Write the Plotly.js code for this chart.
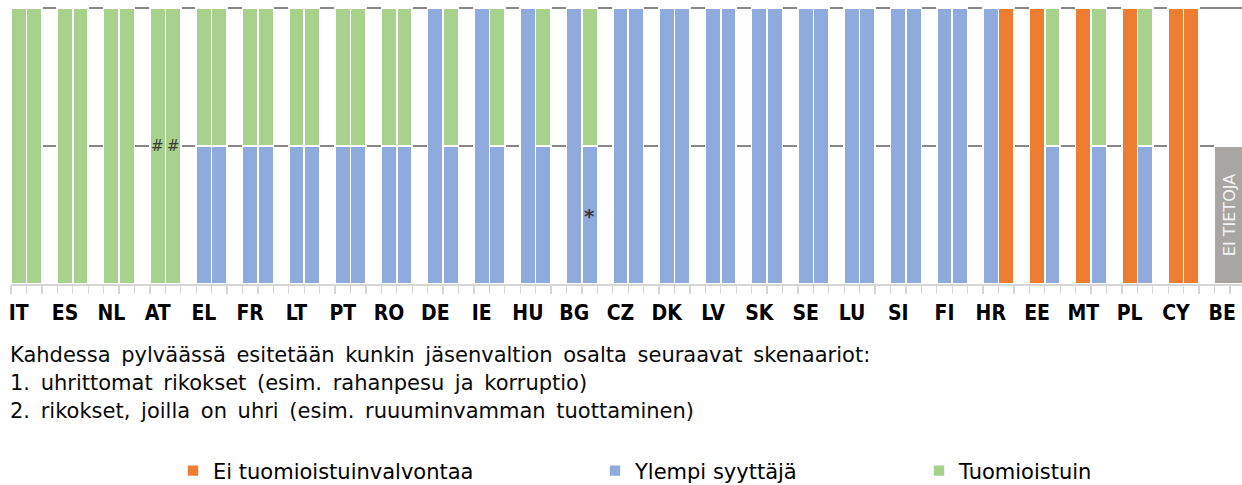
<!DOCTYPE html>
<html>
<head>
<meta charset="utf-8">
<script src="https://cdn.plot.ly/plotly-3.0.1.min.js"></script>
<style>
  html, body { margin: 0; padding: 0; background: #ffffff; }
  #chart { width: 1242px; height: 485px; }
  .annotation-text { word-spacing: 4px; }
</style>
</head>
<body>
<div id="chart"></div>
<script>
// ---- Data ----
const countries = ['IT','ES','NL','AT','EL','FR','LT','PT','RO','DE','IE','HU','BG','CZ','DK','LV','SK','SE','LU','SI','FI','HR','EE','MT','PL','CY','BE'];

// Scenario 1: uhrittomat rikokset (first bar of each pair). 1 = whole bar, 0.5 = half bar
const eiValvontaa1 = [0,0,0,0,0,0,0,0,0,0,0,0,0,0,0,0,0,0,0,0,0,0,1,1,1,1,0];
const ylempi1      = [0,0,0,0,0.5,0.5,0.5,0.5,0.5,1,1,1,1,1,1,1,1,1,1,1,1,1,0,0,0,0,0];
const tuomio1      = [1,1,1,1,0.5,0.5,0.5,0.5,0.5,0,0,0,0,0,0,0,0,0,0,0,0,0,0,0,0,0,0];

// Scenario 2: rikokset, joilla on uhri (second bar of each pair)
const eiValvontaa2 = [0,0,0,0,0,0,0,0,0,0,0,0,0,0,0,0,0,0,0,0,0,1,0,0,0,1,0];
const ylempi2      = [0,0,0,0,0.5,0.5,0.5,0.5,0.5,0.5,0.5,0.5,0.5,1,1,1,1,1,1,1,1,0,0.5,0.5,0.5,0,0];
const tuomio2      = [1,1,1,1,0.5,0.5,0.5,0.5,0.5,0.5,0.5,0.5,0.5,0,0,0,0,0,0,0,0,0,0.5,0.5,0.5,0,0];

// No data (both scenarios)
const eiTietoja    = [0,0,0,0,0,0,0,0,0,0,0,0,0,0,0,0,0,0,0,0,0,0,0,0,0,0,0.5];
const eiTietojaLabel = 'EI TIETOJA';

const seriesNames = ['Ei tuomioistuinvalvontaa', 'Ylempi syyttäjä', 'Tuomioistuin'];
const seriesColors = ['#ED7D31', '#8FAADC', '#A9D18E'];

// Footnote marks on bars: country, scenario (1/2), level in bar, symbol
const noteCountries = ['AT', 'AT', 'BG'];
const noteScenarios = [1, 2, 2];
const noteLevels    = [0.5, 0.5, 0.25];
const noteSymbols   = ['#', '#', '*'];

const explanation = [
  'Kahdessa pylväässä esitetään kunkin jäsenvaltion osalta seuraavat skenaariot:',
  '1. uhrittomat rikokset (esim. rahanpesu ja korruptio)',
  '2. rikokset, joilla on uhri (esim. ruuuminvamman tuottaminen)'
];

// ---- Build traces ----
const SLOT = 3; // bar, bar, gap per country
const pos1 = countries.map((c, i) => SLOT * i);
const pos2 = countries.map((c, i) => SLOT * i + 1);
const nz = v => (v ? v : null);

const pairs = [
  [eiValvontaa1, eiValvontaa2],
  [ylempi1, ylempi2],
  [tuomio1, tuomio2]
];
const legendIds = ['legend', 'legend2', 'legend3'];

const TXT = 'DejaVu Sans, Verdana, sans-serif';
const NARROW = "'Liberation Sans Narrow', 'DejaVu Sans Condensed', 'Arial Narrow', 'DejaVu Sans', sans-serif";

const traces = pairs.map((p, k) => ({
  type: 'bar',
  name: seriesNames[k],
  legend: legendIds[k],
  x: pos1.concat(pos2),
  y: p[0].map(nz).concat(p[1].map(nz)),
  width: 1,
  marker: { color: seriesColors[k], line: { color: '#ffffff', width: 1.6 } },
  hoverinfo: 'skip'
}));

const ndIdx = eiTietoja.map((v, i) => (v ? i : -1)).filter(i => i >= 0);
traces.push({
  type: 'bar',
  name: eiTietojaLabel,
  showlegend: false,
  x: ndIdx.map(i => SLOT * i + 0.5),
  y: ndIdx.map(i => eiTietoja[i]),
  width: 2,
  text: ndIdx.map(() => eiTietojaLabel),
  textposition: 'inside',
  insidetextanchor: 'middle',
  textangle: -90,
  insidetextfont: { family: TXT, size: 16, color: '#f2f2f2' },
  marker: { color: '#A8A5A3', line: { color: '#ffffff', width: 1.6 } },
  hoverinfo: 'skip'
});

// ---- Layout ----
const W = 1242, H = 485;
const M = { l: 11, r: 0, t: 6, b: 201 };
const plotW = W - M.l - M.r, plotH = H - M.t - M.b;
const unitPx = 276;              // pixels for a full bar
const yTop = plotH / unitPx;     // a little above 1 so the top gridline is kept
const px2paperX = px => (px - M.l) / plotW;
const py2paperY = py => (H - M.b - py) / plotH;

const boundaries = [];
for (let b = -0.5; b <= SLOT * countries.length; b += 1) boundaries.push(b);

const annotations = [];
noteSymbols.forEach((s, j) => {
  const ci = countries.indexOf(noteCountries[j]);
  annotations.push({
    x: SLOT * ci + (noteScenarios[j] - 1), y: noteLevels[j],
    xref: 'x', yref: 'y', text: s, showarrow: false,
    xanchor: 'center', yanchor: 'middle',
    yshift: s === '*' ? -1 : 0,
    font: { family: TXT, size: s === '*' ? 20 : 15, color: '#3a3a3a', weight: s === '*' ? 'bold' : 'normal' }
  });
});
const lineTops = [342, 370, 398];
explanation.forEach((t, j) => {
  annotations.push({
    xref: 'paper', yref: 'paper',
    x: px2paperX(9), y: py2paperY(lineTops[j]),
    xanchor: 'left', yanchor: 'top', align: 'left',
    showarrow: false, borderpad: 0,
    text: t,
    font: { family: TXT, size: 21, color: '#0a0a0a' }
  });
});

const legendLefts = [173, 595, 919];
const legendBase = {
  orientation: 'h', xanchor: 'left', yanchor: 'middle',
  y: py2paperY(471),
  font: { family: TXT, size: 21, color: '#000000' },
  bgcolor: 'rgba(0,0,0,0)', borderwidth: 0
};

const layout = {
  width: W, height: H,
  margin: Object.assign({ autoexpand: false }, M),
  paper_bgcolor: '#ffffff', plot_bgcolor: '#ffffff',
  barmode: 'stack',
  bargap: 0,
  showlegend: true,
  xaxis: {
    range: [-0.5, -0.5 + plotW / 15.43],
    tickmode: 'array',
    tickvals: pos1,
    ticktext: countries,
    ticks: '',
    ticklabelstandoff: 9,
    tickfont: { family: NARROW, size: 21, color: '#000000', weight: 'bold' },
    showgrid: false, zeroline: false,
    showline: true, linecolor: '#d6d6d6', linewidth: 1.5,
    minor: {
      tickmode: 'array', tickvals: boundaries,
      ticks: 'outside', ticklen: 8, tickcolor: '#d6d6d6', tickwidth: 1.3,
      showgrid: false
    },
    fixedrange: true
  },
  yaxis: {
    range: [0, yTop],
    tickmode: 'array', tickvals: [0.5, 1],
    showticklabels: false, ticks: '',
    showgrid: true, gridcolor: '#878787', gridwidth: 1.6,
    zeroline: false, showline: false,
    fixedrange: true
  },
  annotations: annotations
};
legendIds.forEach((id, k) => {
  layout[id] = Object.assign({}, legendBase, { x: px2paperX(legendLefts[k]) });
});

Plotly.newPlot('chart', traces, layout, { displayModeBar: false, staticPlot: true });
</script>
</body>
</html>
